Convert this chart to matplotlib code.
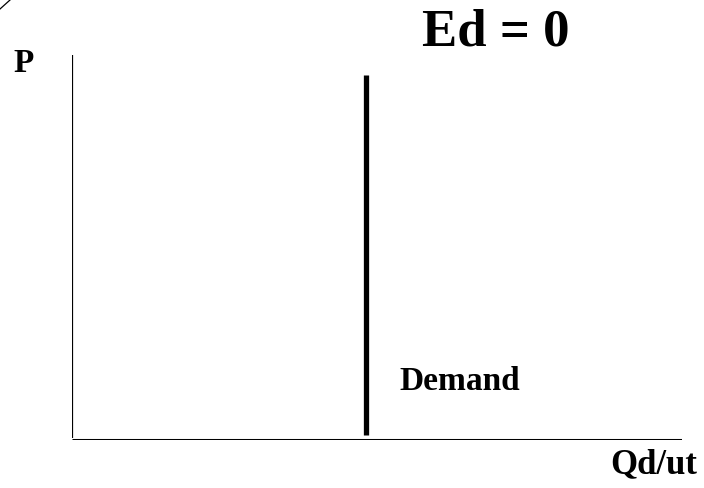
import matplotlib
matplotlib.use("Agg")
import matplotlib.pyplot as plt
from matplotlib.lines import Line2D

# ── Data ──────────────────────────────────────────────────────────────────────
demand_q = [4.82, 4.82]        # perfectly inelastic: fixed quantity
demand_p = [0.13, 9.48]
p_axis_x = [0.0, 0.0]
p_axis_y = [0.05, 10.0]
q_axis_x = [0.0, 10.0]
q_axis_y = [0.0, 0.0]

W, H = 704, 488
SERIF = ["Liberation Serif", "DejaVu Serif"]

fig = plt.figure(figsize=(W / 100, H / 100), dpi=100, facecolor="white")

# axes box: left edge at the P axis, bottom at the Q axis
ax = fig.add_axes([72 / W, (H - 440) / H, (682 - 72) / W, (440 - 55) / H])
ax.set_xlim(0, 10)
ax.set_ylim(0, 10)
ax.axis("off")

ax.plot(p_axis_x, p_axis_y, color="black", linewidth=1.6, solid_capstyle="butt")
ax.plot(q_axis_x, q_axis_y, color="black", linewidth=2.2, solid_capstyle="butt")
ax.plot(demand_q, demand_p, color="black", linewidth=3.8, solid_capstyle="butt")

# small corner stroke at top-left
fig.add_artist(Line2D([0 / W, 10 / W], [1 - 9 / H, 1.0], color="black", linewidth=0.9))


def px_text(x, y, s, size, ha="left"):
    fig.text(x / W, 1 - y / H, s, fontsize=size, fontweight="bold",
             family=SERIF, ha=ha, va="baseline", color="black")


px_text(496, 45, "Ed = 0", 38, ha="center")
px_text(13, 72, "P", 24)
px_text(399, 390, "Demand", 24)
px_text(610, 473, "Qd/ut", 25)

fig.savefig("out.png", dpi=100, facecolor="white")
